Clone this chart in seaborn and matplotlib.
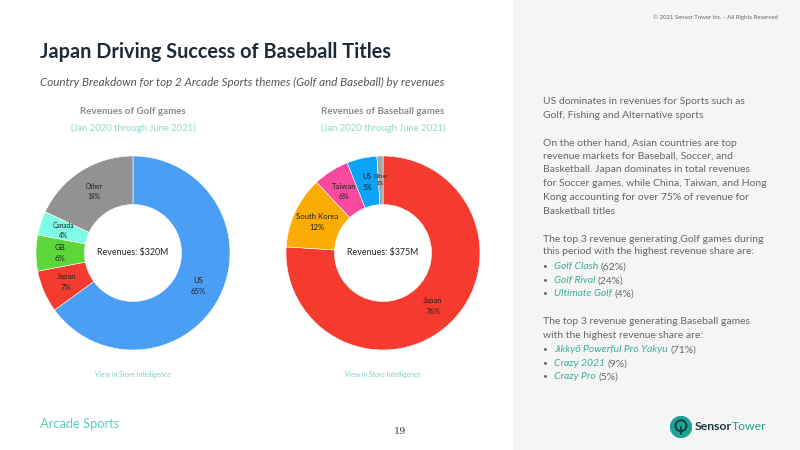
import matplotlib
matplotlib.use("Agg")
import matplotlib.pyplot as plt
import seaborn as sns
from matplotlib.patches import Rectangle, Circle

sns.set_theme(style="white")
plt.rcParams['font.family'] = ['Lato', 'DejaVu Sans']

# ---- data ----
golf_labels = ["US", "Japan", "GB", "Canada", "Other"]
golf_values = [65, 7, 6, 4, 18]
golf_colors = ["#4A9FF5", "#F53B30", "#5DD63A", "#7DFDE6", "#929292"]

base_labels = ["Japan", "South Korea", "Taiwan", "US", "Other"]
base_values = [76, 12, 6, 5, 1]
base_colors = ["#F53B30", "#FBAC02", "#F94AA0", "#0BA3F5", "#A3A3A3"]

golf_total = "Revenues: $320M"
base_total = "Revenues: $375M"

W, H = 800, 450
fig = plt.figure(figsize=(8, 4.5), dpi=100)
fig.patch.set_facecolor("white")

def fx(x): return x / W
def fy(y): return 1 - y / H

# right panel background
fig.patches.append(Rectangle((fx(513), 0), 1 - fx(513), 1, transform=fig.transFigure,
                             facecolor="#F5F5F5", edgecolor="none", zorder=-5))

# titles
fig.text(fx(40), fy(52), "Japan Driving Success of Baseball Titles", fontsize=14.3,
         fontweight="bold", color="#1E2B37", va="center", ha="left")
fig.text(fx(40), fy(82), "Country Breakdown for top 2 Arcade Sports themes (Golf and Baseball) by revenues",
         fontsize=8.4, style="italic", color="#555555", va="center", ha="left")
fig.text(fx(778), fy(17), "© 2021 Sensor Tower Inc. - All Rights Reserved", fontsize=4.3,
         color="#666666", ha="right", va="center")

def donut(cx, cy, values, labels, colors, total, title, small_sizes):
    r = 97
    ax = fig.add_axes([fx(cx - r), fy(cy + r), 2 * r / W, 2 * r / H])
    wedges, texts = ax.pie(values, colors=colors, startangle=90, counterclock=False,
                           radius=1.0, wedgeprops=dict(width=0.5, edgecolor="white", linewidth=0.4),
                           labels=[f"{l}\n{v}%" for l, v in zip(labels, values)],
                           labeldistance=0.75,
                           textprops=dict(fontsize=5.6, color="#222222", ha="center", va="center",
                                          linespacing=1.6))
    for t, l in zip(texts, labels):
        t.set_ha("center"); t.set_va("center")
        if l in small_sizes:
            t.set_fontsize(small_sizes[l])
    ax.set_xlim(-1, 1); ax.set_ylim(-1, 1)
    ax.set_aspect("equal")
    ax.axis("off")
    ax.text(0, 0, total, fontsize=6.4, color="#222222", ha="center", va="center")
    fig.text(fx(cx), fy(112), title, fontsize=7.0, fontweight="bold", color="#8A8A8A",
             ha="center", va="center")
    fig.text(fx(cx), fy(128), "(Jan 2020 through June 2021)", fontsize=6.8, color="#8FD5CC",
             ha="center", va="center")
    fig.text(fx(cx), fy(375), "View in Store Intelligence", fontsize=4.9, color="#7FD0C6",
             ha="center", va="center")

donut(133, 253, golf_values, golf_labels, golf_colors, golf_total, "Revenues of Golf games",
      small_sizes={"Canada": 4.8, "Other": 4.8})
donut(383, 253, base_values, base_labels, base_colors, base_total, "Revenues of Baseball games",
      small_sizes={"US": 5.0, "Other": 4.0})

# right side text
grey = "#676767"
teal = "#3DAE9C"
fs = 7.5
x0 = 543
plain_lines = [
    (101, "US dominates in revenues for Sports such as"),
    (115, "Golf, Fishing and Alternative sports"),
    (143, "On the other hand, Asian countries are top"),
    (156, "revenue markets for Baseball, Soccer, and"),
    (170, "Basketball. Japan dominates in total revenues"),
    (184, "for Soccer games, while China, Taiwan, and Hong"),
    (197, "Kong accounting for over 75% of revenue for"),
    (211, "Basketball titles"),
    (239, "The top 3 revenue generating Golf games during"),
    (252, "this period with the highest revenue share are:"),
    (321, "The top 3 revenue generating Baseball games"),
    (335, "with the highest revenue share are:"),
]
for y, s in plain_lines:
    fig.text(fx(x0), fy(y), s, fontsize=fs, color=grey, ha="left", va="center")

golf_games = ["Golf Clash", "Golf Rival", "Ultimate Golf"]
golf_shares = ["(62%)", "(24%)", "(4%)"]
base_games = ["Jikkyō Powerful Pro Yakyu", "Crazy 2021", "Crazy Pro"]
base_shares = ["(71%)", "(9%)", "(5%)"]

renderer = fig.canvas.get_renderer()
def bullets(ys, names, shares):
    for y, n, s in zip(ys, names, shares):
        fig.text(fx(545), fy(y), "•", fontsize=6, color=grey, ha="center", va="center")
        t = fig.text(fx(554), fy(y + 3.3), n, fontsize=fs, color=teal, style="italic",
                     ha="left", va="baseline")
        bb = t.get_window_extent(renderer)
        fig.text(bb.x1 / W + fx(2.5), fy(y + 3.3), s, fontsize=fs, color=grey,
                 ha="left", va="baseline")

bullets([266, 280, 293], golf_games, golf_shares)
bullets([349, 363, 376], base_games, base_shares)

# footer
fig.text(fx(40), fy(424), "Arcade Sports", fontsize=9.3, color="#5CCBBB",
         ha="left", va="center")
fig.text(fx(400), fy(432), "19", fontsize=7, color="#444444", family="DejaVu Serif",
         ha="center", va="center")

# logo
lax = fig.add_axes([fx(670), fy(438), 22 / W, 22 / H])
lax.set_xlim(-1.05, 1.05); lax.set_ylim(-1.05, 1.05); lax.set_aspect("equal"); lax.axis("off")
lax.add_patch(Circle((0, 0), 1.0, color="#1FA396"))
lax.add_patch(Circle((0, 0.12), 0.52, fill=False, edgecolor="#123F3C", linewidth=1.4))
lax.plot([0, 0], [-0.8, 0.12], color="#123F3C", linewidth=1.4, solid_capstyle="butt")
t1 = fig.text(fx(695), fy(426), "Sensor", fontsize=8.8, fontweight="bold", color="#1F3A3D",
              ha="left", va="center")
bb = t1.get_window_extent(renderer)
fig.text(bb.x1 / W, fy(426), "Tower", fontsize=8.8, color="#2A9D8F", ha="left", va="center")

fig.savefig("out.png", dpi=100, facecolor="white")
